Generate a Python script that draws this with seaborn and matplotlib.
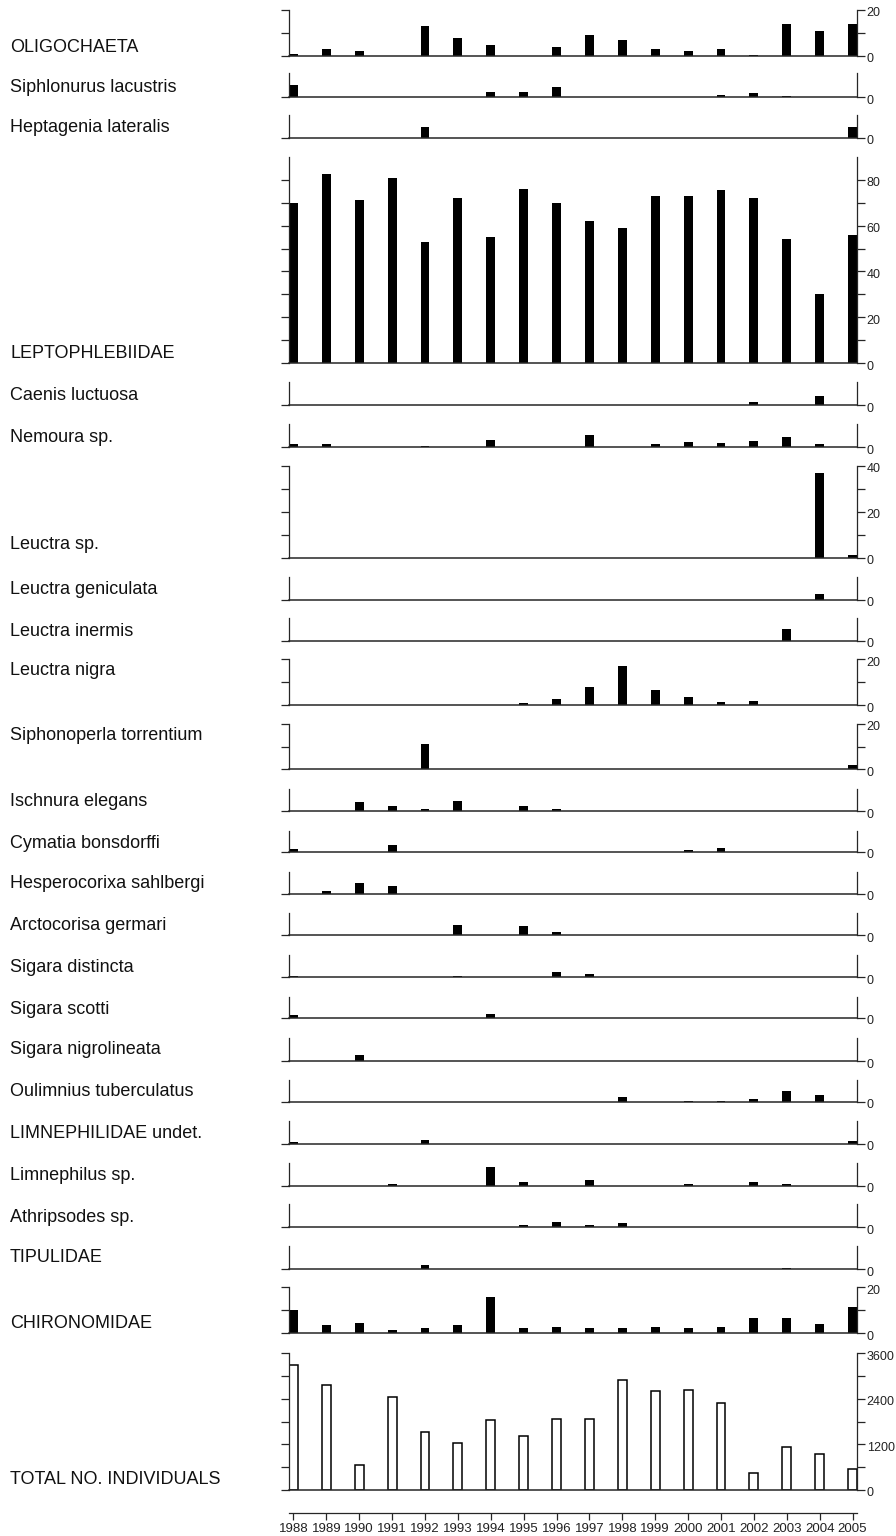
import numpy as np
import pandas as pd
import matplotlib
matplotlib.use("Agg")
import matplotlib.pyplot as plt
import matplotlib.transforms as mtransforms
import seaborn as sns

# Годы наблюдений
years = [1988, 1989, 1990, 1991, 1992, 1993, 1994, 1995, 1996,
         1997, 1998, 1999, 2000, 2001, 2002, 2003, 2004, 2005]

# Численность по таксонам
oligochaeta = [1, 3, 2, 0, 13, 8, 5, 0, 4, 9, 7, 3, 2, 3, 0.5, 14, 11, 14]
siphlonurus_lacustris = [5, 0, 0, 0, 0, 0, 2, 2, 4, 0, 0, 0, 0, 1, 1.5, 0.5, 0, 0]
heptagenia_lateralis = [0, 0, 0, 0, 5, 0, 0, 0, 0, 0, 0, 0, 0, 0, 0, 0, 0, 5]
leptophlebiidae = [70, 82.5, 71, 81, 53, 72, 55, 76, 70, 62, 59, 73, 73, 75.5, 72, 54, 30, 56]
caenis_luctuosa = [0, 0, 0, 0, 0, 0, 0, 0, 0, 0, 0, 0, 0, 0, 1.5, 0, 3.7, 0]
nemoura_sp = [1.1, 1.1, 0, 0, 0.6, 0, 2.9, 0, 0, 5.4, 0, 1.1, 2.3, 1.7, 2.7, 4.3, 1.1, 0]
leuctra_sp = [0, 0, 0, 0, 0, 0, 0, 0, 0, 0, 0, 0, 0, 0, 0, 0, 37, 1.2]
leuctra_geniculata = [0, 0, 0, 0, 0, 0, 0, 0, 0, 0, 0, 0, 0, 0, 0, 0, 2.4, 0]
leuctra_inermis = [0, 0, 0, 0, 0, 0, 0, 0, 0, 0, 0, 0, 0, 0, 0, 5, 0, 0]
leuctra_nigra = [0, 0, 0, 0, 0, 0, 0, 0.7, 2.5, 8, 17, 6.7, 3.5, 1.3, 1.75, 0, 0, 0]
siphonoperla_torrentium = [0, 0, 0, 0, 11, 0, 0, 0, 0, 0, 0, 0, 0, 0, 0, 0, 0, 1.6]
ischnura_elegans = [0, 0, 4.1, 2.4, 0.75, 4.5, 0, 2.4, 0.75, 0, 0, 0, 0, 0, 0, 0, 0, 0]
cymatia_bonsdorffi = [1.5, 0, 0, 3.4, 0, 0, 0, 0, 0, 0, 0, 0, 0.8, 1.7, 0, 0, 0, 0]
hesperocorixa_sahlbergi = [0, 1.4, 5.2, 3.5, 0, 0, 0, 0, 0, 0, 0, 0, 0, 0, 0, 0, 0, 0]
arctocorisa_germari = [0, 0, 0, 0, 0, 4.5, 0, 4.1, 1.2, 0, 0, 0, 0, 0, 0, 0, 0, 0]
sigara_distincta = [0.6, 0, 0, 0, 0, 0.6, 0, 0, 2.3, 1.4, 0, 0, 0, 0, 0, 0, 0, 0]
sigara_scotti = [1.2, 0, 0, 0, 0, 0, 1.8, 0, 0, 0, 0, 0, 0, 0, 0, 0, 0, 0]
sigara_nigrolineata = [0, 0, 2.4, 0, 0, 0, 0, 0, 0, 0, 0, 0, 0, 0, 0, 0, 0, 0]
oulimnius_tuberculatus = [0, 0, 0, 0, 0, 0, 0, 0, 0, 0, 2.5, 0, 0.6, 0.6, 1.2, 4.9, 3.4, 0]
limnephilidae_undet = [0.7, 0, 0, 0, 1.8, 0, 0, 0, 0, 0, 0, 0, 0, 0, 0, 0, 0, 1.2]
limnephilus_sp = [0, 0, 0, 0.7, 0, 0, 8.2, 1.6, 0, 2.8, 0, 0, 0.7, 0, 1.6, 0.7, 0, 0]
athripsodes_sp = [0, 0, 0, 0, 0, 0, 0, 0.7, 2.2, 0.7, 1.7, 0, 0, 0, 0, 0, 0, 0]
tipulidae = [0, 0, 0, 0, 1.6, 0, 0, 0, 0, 0, 0, 0, 0, 0, 0, 0.6, 0, 0]
chironomidae = [10.1, 3.3, 4.3, 1.3, 2.2, 3.3, 15.5, 2.2, 2.8, 2.2, 2.2, 2.8, 2.2, 2.8, 6.4, 6.4, 3.9, 11.2]
total_individuals = [3277, 2770, 647, 2438, 1521, 1224, 1835, 1425, 1870, 1870,
                     2902, 2604, 2640, 2290, 455, 1127, 944, 559]

labels = ["OLIGOCHAETA", "Siphlonurus lacustris", "Heptagenia lateralis", "LEPTOPHLEBIIDAE",
          "Caenis luctuosa", "Nemoura sp.", "Leuctra sp.", "Leuctra geniculata", "Leuctra inermis",
          "Leuctra nigra", "Siphonoperla torrentium", "Ischnura elegans", "Cymatia bonsdorffi",
          "Hesperocorixa sahlbergi", "Arctocorisa germari", "Sigara distincta", "Sigara scotti",
          "Sigara nigrolineata", "Oulimnius tuberculatus", "LIMNEPHILIDAE undet.", "Limnephilus sp.",
          "Athripsodes sp.", "TIPULIDAE", "CHIRONOMIDAE", "TOTAL NO. INDIVIDUALS"]

series = [oligochaeta, siphlonurus_lacustris, heptagenia_lateralis, leptophlebiidae,
          caenis_luctuosa, nemoura_sp, leuctra_sp, leuctra_geniculata, leuctra_inermis,
          leuctra_nigra, siphonoperla_torrentium, ischnura_elegans, cymatia_bonsdorffi,
          hesperocorixa_sahlbergi, arctocorisa_germari, sigara_distincta, sigara_scotti,
          sigara_nigrolineata, oulimnius_tuberculatus, limnephilidae_undet, limnephilus_sp,
          athripsodes_sp, tipulidae, chironomidae, total_individuals]

# Шкалы: (верх оси, подписанные деления, промежуточные деления)
scales = {
    "small": (10, [0], []),
    "s20": (20, [0, 20], [10]),
    "s40": (40, [0, 20, 40], [10, 30]),
    "s90": (90, [0, 20, 40, 60, 80], [10, 30, 50, 70]),
    "s3600": (3600, [0, 1200, 2400, 3600], [600, 1800, 3000]),
}
panel_scale = ["s20", "small", "small", "s90", "small", "small", "s40", "small", "small",
               "s20", "s20", "small", "small", "small", "small", "small", "small",
               "small", "small", "small", "small", "small", "small", "s20", "s3600"]

# Разметка в пикселях: верх оси, базовая линия, центр подписи
tops = [10, 73, 115, 157, 382, 424, 466, 577, 618, 659, 724, 789, 831, 872, 913,
        955, 997, 1038, 1080, 1121, 1163, 1204, 1246, 1287, 1353]
bases = [56, 97, 138, 363, 405, 447, 558, 600, 641, 705, 769, 811, 852, 894, 935,
         977, 1018, 1061, 1102, 1144, 1186, 1227, 1269, 1333, 1490]
label_y = [47, 87, 128, 353, 395, 437, 545, 590, 632, 670, 735, 801, 843, 884, 926,
           967, 1009, 1050, 1092, 1133, 1175, 1217, 1258, 1323, 1480]

sns.set_theme(style="ticks")
plt.rcParams['font.family'] = ['Liberation Sans', 'DejaVu Sans']

W, H = 896, 1536
fig = plt.figure(figsize=(W / 100, H / 100), dpi=100)

bar_w = 0.27
x_lo, x_hi = years[0] - bar_w / 2, years[-1] + bar_w / 2
ax_left, ax_right = 289, 857
line_c = "#262626"
shift_down = mtransforms.ScaledTranslation(0, -2 / 100, fig.dpi_scale_trans)

for i, (name, vals) in enumerate(zip(labels, series)):
    top, base = tops[i], bases[i]
    ax = fig.add_axes([ax_left / W, 1 - base / H, (ax_right - ax_left) / W, (base - top) / H])
    df = pd.DataFrame({"year": years, "count": vals})
    is_total = name.startswith("TOTAL")
    if is_total:
        sns.barplot(data=df, x="year", y="count", native_scale=True, width=bar_w,
                    color="white", edgecolor="black", linewidth=1.1, saturation=1,
                    errorbar=None, ax=ax)
    else:
        sns.barplot(data=df, x="year", y="count", native_scale=True, width=bar_w,
                    color="black", linewidth=0, saturation=1, errorbar=None, ax=ax)
    ymax, major, minor = scales[panel_scale[i]]
    ax.set_xlim(x_lo, x_hi)
    ax.set_ylim(0, ymax)
    ax.set_xlabel("")
    ax.set_ylabel("")
    ax.set_xticks([])
    ax.set_yticks(major)
    ax.set_yticks(minor, minor=True)
    ax.set_yticklabels([str(v) for v in major])
    ax.spines["top"].set_visible(False)
    for s in ["left", "right", "bottom"]:
        ax.spines[s].set_color(line_c)
        ax.spines[s].set_linewidth(1.1 if s == "bottom" else 0.9)
    ax.tick_params(axis="y", which="both", left=True, right=True, labelleft=False,
                   labelright=True, direction="out", length=6, width=0.9,
                   color=line_c, labelsize=9, pad=1, labelcolor="#222222")
    for lab in ax.get_yticklabels():
        lab.set_transform(lab.get_transform() + shift_down)
    ax.patch.set_alpha(0)
    fig.text(10 / W, 1 - label_y[i] / H, name, ha="left", va="center",
             fontsize=13, color="#111111")

# Ось лет внизу
axy = fig.add_axes([ax_left / W, 1 - 1513 / H, (ax_right - ax_left) / W, 0.001])
axy.set_xlim(x_lo, x_hi)
axy.set_xticks(years)
axy.set_xticklabels([str(y) for y in years])
axy.set_yticks([])
for s in ["top", "left", "right"]:
    axy.spines[s].set_visible(False)
axy.spines["bottom"].set_color(line_c)
axy.spines["bottom"].set_linewidth(0.9)
axy.tick_params(axis="x", direction="out", length=5, width=0.9, color=line_c,
                labelsize=9.5, pad=2, labelcolor="#222222")
axy.patch.set_alpha(0)

fig.savefig("out.png", dpi=100)
